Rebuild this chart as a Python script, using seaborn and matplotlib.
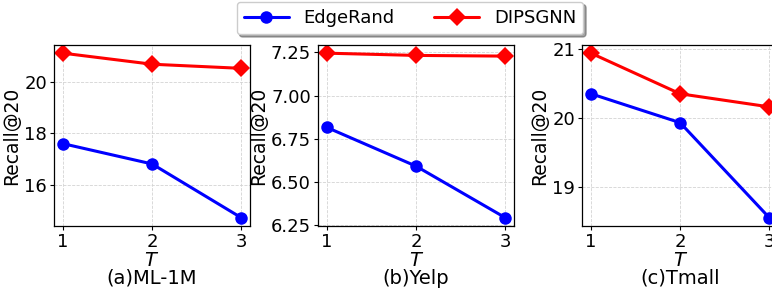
import pandas as pd
import seaborn as sns
import matplotlib.pyplot as plt

# values
steps = [1, 2, 3]
datasets = ['(a)ML-1M', '(b)Yelp', '(c)Tmall']
edgerand = [
    [17.59, 16.80, 14.71],
    [6.815, 6.591, 6.293],
    [20.35, 19.93, 18.55],
]
dipsgnn = [
    [21.11, 20.68, 20.52],
    [7.245, 7.232, 7.228],
    [20.94, 20.35, 20.16],
]
yticks = [
    [16, 18, 20],
    [6.25, 6.50, 6.75, 7.00, 7.25],
    [19, 20, 21],
]

sns.set_style('white')
plt.rcParams['font.family'] = ['DejaVu Sans']
plt.rcParams.update({'text.color': 'black', 'axes.labelcolor': 'black',
                     'xtick.color': 'black', 'ytick.color': 'black'})

fig = plt.figure(figsize=(7.72, 2.9), dpi=100)
lefts = [0.070, 0.412, 0.754]

palette = {'EdgeRand': 'blue', 'DIPSGNN': 'red'}
markers = {'EdgeRand': 'o', 'DIPSGNN': 'D'}

for i, name in enumerate(datasets):
    ax = fig.add_axes([lefts[i], 0.221, 0.254, 0.624])
    df = pd.DataFrame({
        'T': steps * 2,
        'Recall@20': edgerand[i] + dipsgnn[i],
        'method': ['EdgeRand'] * 3 + ['DIPSGNN'] * 3,
    })
    sns.lineplot(data=df, x='T', y='Recall@20', hue='method', style='method',
                 palette=palette, markers=markers, dashes=False,
                 linewidth=2.2, markersize=9, markeredgewidth=0, ax=ax,
                 legend=(i == 0))
    ax.set_xticks(steps)
    ax.set_yticks(yticks[i])
    if i == 1:
        ax.set_yticklabels([f'{v:.2f}' for v in yticks[i]])
    ax.tick_params(labelsize=13, length=3, width=0.8, pad=2,
                   left=True, bottom=True)
    ax.grid(True, linestyle='--', linewidth=0.6, color='lightgray')
    for s in ax.spines.values():
        s.set_color('black')
        s.set_linewidth(0.9)
    ax.set_xlabel('$T$', fontsize=14, labelpad=0)
    ax.set_ylabel('Recall@20', fontsize=13.5, labelpad=2)
    ax.text(0.5, -0.29, name, transform=ax.transAxes, ha='center',
            va='center', fontsize=14)
    if i == 0:
        handles, labels = ax.get_legend_handles_labels()
        ax.get_legend().remove()

fig.legend(handles, labels, loc='upper center', bbox_to_anchor=(0.531, 1.025),
           ncol=2, fontsize=13, shadow=True, fancybox=True,
           handlelength=2.5, columnspacing=2.2, framealpha=1)

fig.savefig('out.png', dpi=100)
